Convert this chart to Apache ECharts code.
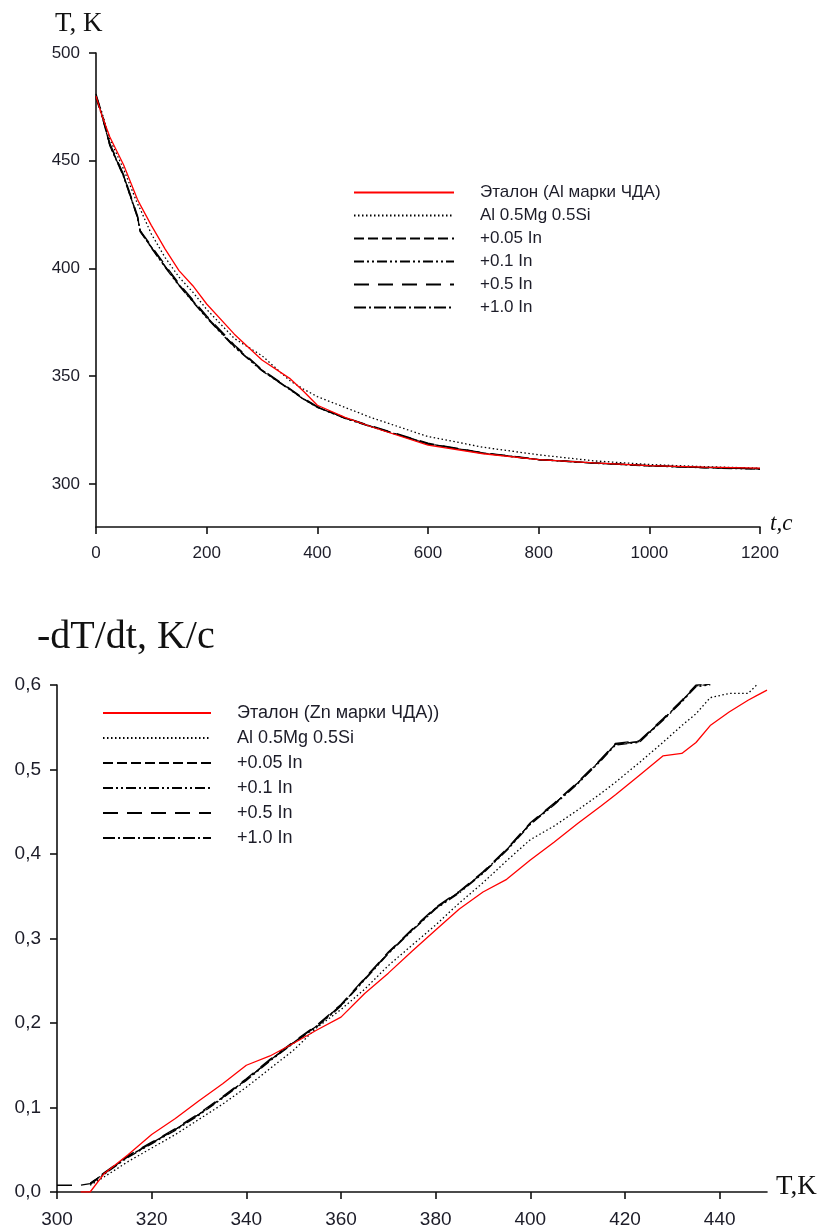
<!DOCTYPE html>
<html>
<head>
<meta charset="utf-8">
<script src="https://cdn.jsdelivr.net/npm/echarts@6/dist/echarts.min.js"></script>
<style>
html,body{margin:0;padding:0;background:#fff;}
#chart{width:822px;height:1229px;}
</style>
</head>
<body>
<div id="chart"></div>
<script>
// ---------- Top chart: cooling curves T(t) ----------
var topLegendNames = ['Эталон (Al марки ЧДА)', 'Al 0.5Mg 0.5Si', '+0.05 In', '+0.1 In', '+0.5 In', '+1.0 In'];
var topTime = [0, 10, 25, 50, 75, 80, 100, 125, 150, 175, 200, 250, 300, 350, 375, 400, 450, 500, 600, 700, 800, 900, 1000, 1100, 1200];
var topEtalon = [480, 471.5, 461, 448, 432, 429.5, 420, 409, 399, 392, 383.5, 369.5, 357.5, 349, 343, 336.5, 330.9, 326.3, 318, 314, 311.3, 309.8, 308.5, 307.8, 307.3];
var topAlMgSi = [480, 473, 460, 446, 430, 427.5, 416, 405, 396, 389, 381, 367.5, 359.5, 348, 344, 340.5, 335.5, 330.5, 322, 317, 313.5, 310.7, 309, 308, 307.3];
var topIn005 = [480, 472, 457.5, 443, 424, 417, 410, 401, 392.5, 385, 377.5, 364, 352.8, 344, 339.5, 335.7, 330.6, 326.5, 318.7, 314.3, 311.3, 309.7, 308.4, 307.6, 307];
var topIn01 = [479, 471.5, 457, 442.5, 423.5, 417.5, 409.5, 400.5, 392, 384.5, 377, 363.5, 352.5, 343.8, 339.3, 335.5, 330.4, 326.3, 318.5, 314.2, 311.2, 309.6, 308.3, 307.5, 306.8];
var topIn05 = [481, 472.5, 458, 443.5, 424.5, 417.5, 410.5, 401.5, 393, 385.5, 378, 364.5, 353, 344.3, 339.8, 335.9, 330.8, 326.7, 318.9, 314.4, 311.4, 309.8, 308.5, 307.7, 307.1];
var topIn10 = [480, 471.8, 457.2, 442.8, 423.8, 417.2, 409.8, 400.8, 392.3, 384.8, 377.3, 363.8, 352.6, 343.9, 339.4, 335.6, 330.5, 326.4, 318.6, 314.3, 311.3, 309.7, 308.4, 307.6, 307];
var topXTicks = [0, 200, 400, 600, 800, 1000, 1200];
var topYTicks = [300, 350, 400, 450, 500];

// ---------- Bottom chart: cooling rate -dT/dt(T) ----------
var botLegendNames = ['Эталон (Zn марки ЧДА))', 'Al 0.5Mg 0.5Si', '+0.05 In', '+0.1 In', '+0.5 In', '+1.0 In'];
var botTemp = [300, 305, 307, 310, 315, 320, 325, 330, 335, 340, 345, 350, 355, 360, 365, 370, 375, 380, 385, 390, 395, 400, 405, 410, 415, 418, 423, 428, 432, 435, 438, 442, 446, 448, 450];
var botEtalon = [null, 0, 0, 0.022, 0.044, 0.068, 0.087, 0.108, 0.128, 0.150, 0.161, 0.176, 0.192, 0.207, 0.235, 0.259, 0.285, 0.310, 0.335, 0.355, 0.370, 0.393, 0.414, 0.436, 0.457, 0.470, 0.493, 0.516, 0.519, 0.532, 0.552, 0.568, 0.582, 0.588, 0.594];
var botAlMgSi = [null, null, 0.008, 0.018, 0.036, 0.052, 0.068, 0.086, 0.104, 0.124, 0.146, 0.168, 0.195, 0.216, 0.240, 0.268, 0.292, 0.316, 0.342, 0.366, 0.392, 0.417, 0.433, 0.452, 0.472, 0.485, 0.508, 0.532, 0.552, 0.566, 0.585, 0.590, 0.590, 0.601, null];
var botIn005 = [null, null, 0.010, 0.022, 0.042, 0.058, 0.074, 0.092, 0.112, 0.133, 0.156, 0.177, 0.197, 0.221, 0.252, 0.283, 0.310, 0.336, 0.355, 0.378, 0.405, 0.436, 0.459, 0.484, 0.512, 0.530, 0.533, 0.559, 0.581, 0.599, 0.601, null, null, null, null];
var botIn01 = [null, null, 0.009, 0.021, 0.041, 0.057, 0.073, 0.091, 0.111, 0.132, 0.155, 0.176, 0.196, 0.220, 0.251, 0.282, 0.309, 0.335, 0.354, 0.377, 0.404, 0.435, 0.458, 0.483, 0.511, 0.529, 0.532, 0.558, 0.580, 0.598, 0.600, null, null, null, null];
var botIn05 = [0.008, 0.008, 0.010, 0.023, 0.043, 0.059, 0.075, 0.093, 0.113, 0.134, 0.157, 0.178, 0.198, 0.222, 0.253, 0.284, 0.311, 0.337, 0.356, 0.379, 0.406, 0.437, 0.460, 0.485, 0.513, 0.531, 0.534, 0.560, 0.582, 0.600, 0.602, null, null, null, null];
var botIn10 = [null, null, 0.010, 0.022, 0.042, 0.058, 0.074, 0.092, 0.112, 0.133, 0.156, 0.177, 0.197, 0.221, 0.252, 0.283, 0.310, 0.336, 0.355, 0.378, 0.405, 0.436, 0.459, 0.484, 0.512, 0.530, 0.533, 0.559, 0.581, 0.599, 0.601, null, null, null, null];
var botXTicks = [300, 320, 340, 360, 380, 400, 420, 440];

// ---------- styles ----------
var styles = [
  {color: '#ff0000', type: 'solid'},
  {color: '#000000', type: [1.5, 2.5]},
  {color: '#000000', type: [10, 4]},
  {color: '#000000', type: [10, 3, 2, 3, 2, 3]},
  {color: '#000000', type: [15, 9]},
  {color: '#000000', type: [12, 3, 2, 3]}
];

function zip(xs, ys) {
  var out = [];
  for (var i = 0; i < xs.length; i++) out.push([xs[i], ys[i]]);
  return out;
}

var topData = [topEtalon, topAlMgSi, topIn005, topIn01, topIn05, topIn10];
var botData = [botEtalon, botAlMgSi, botIn005, botIn01, botIn05, botIn10];

var series = [];
topData.forEach(function (d, i) {
  series.push({
    name: topLegendNames[i], type: 'line', xAxisIndex: 0, yAxisIndex: 0,
    data: zip(topTime, d), symbol: 'none', animation: false, z: i === 0 ? 3 : 2,
    lineStyle: {color: styles[i].color, width: 1.3, type: styles[i].type},
    itemStyle: {color: styles[i].color}
  });
});
botData.forEach(function (d, i) {
  series.push({
    name: 'b' + i, type: 'line', xAxisIndex: 1, yAxisIndex: 1,
    data: zip(botTemp, d), symbol: 'none', animation: false, z: i === 0 ? 3 : 2,
    lineStyle: {color: styles[i].color, width: 1.3, type: styles[i].type},
    itemStyle: {color: styles[i].color}
  });
});

var labelColor = '#1c1c28';
var axisLineStyle = {color: '#111', width: 1.6};
var sans = '"Liberation Sans", Arial, sans-serif';
var serif = '"Liberation Serif", "Times New Roman", serif';

var hiddenSymbol = {color: 'rgba(0,0,0,0)', borderColor: 'rgba(0,0,0,0)', borderWidth: 0, opacity: 0};
function plain(v) { return String(v); }

var option = {
  backgroundColor: '#ffffff',
  animation: false,
  grid: [
    {left: 96, top: 53, width: 664, height: 474},
    {left: 57, top: 685, width: 710, height: 507}
  ],
  legend: [
    {
      orient: 'vertical', left: 353, top: 184, padding: 0, itemWidth: 100, itemHeight: 14, itemGap: 6,
      data: topLegendNames, itemStyle: hiddenSymbol, selectedMode: false,
      textStyle: {fontFamily: sans, fontSize: 17, color: labelColor, padding: [0, 0, 0, 21], lineHeight: 14}
    },
    {
      orient: 'vertical', left: 102, top: 704, padding: 0, itemWidth: 108, itemHeight: 14, itemGap: 7,
      data: botLegendNames.map(function (n, i) { return {name: 'b' + i}; }),
      formatter: function (name) { return botLegendNames[+name.slice(1)]; },
      itemStyle: hiddenSymbol, selectedMode: false,
      textStyle: {fontFamily: sans, fontSize: 18, color: labelColor, padding: [0, 0, 0, 21], lineHeight: 14}
    }
  ],
  xAxis: [
    {
      gridIndex: 0, type: 'value', min: 0, max: 1200, interval: 200,
      axisLine: {lineStyle: axisLineStyle}, splitLine: {show: false},
      axisTick: {length: 7, lineStyle: axisLineStyle, customValues: topXTicks},
      axisLabel: {margin: 18, fontFamily: sans, fontSize: 17, color: labelColor, customValues: topXTicks, formatter: plain}
    },
    {
      gridIndex: 1, type: 'value', min: 300, max: 450, interval: 20,
      axisLine: {lineStyle: axisLineStyle}, splitLine: {show: false},
      axisTick: {length: 7, lineStyle: axisLineStyle, customValues: botXTicks},
      axisLabel: {margin: 18, fontFamily: sans, fontSize: 19, color: labelColor, customValues: botXTicks, formatter: plain}
    }
  ],
  yAxis: [
    {
      gridIndex: 0, type: 'value', min: 280, max: 500,
      axisLine: {show: true, lineStyle: axisLineStyle}, splitLine: {show: false},
      axisTick: {show: true, length: 7, lineStyle: axisLineStyle, customValues: topYTicks},
      axisLabel: {margin: 16, fontFamily: sans, fontSize: 17, color: labelColor, customValues: topYTicks, formatter: plain}
    },
    {
      gridIndex: 1, type: 'value', min: 0, max: 0.6, interval: 0.1,
      axisLine: {show: true, lineStyle: axisLineStyle}, splitLine: {show: false},
      axisTick: {show: true, length: 7, lineStyle: axisLineStyle},
      axisLabel: {
        margin: 16, fontFamily: sans, fontSize: 19, color: labelColor,
        formatter: function (v) { return v.toFixed(1).replace('.', ','); }
      }
    }
  ],
  graphic: [
    {type: 'text', left: 55, top: 10, style: {text: 'T, K', font: '27px ' + serif, fill: '#111'}},
    {type: 'text', left: 770, top: 512, style: {text: 't,c', font: 'italic 23px ' + serif, fill: '#111'}},
    {type: 'text', left: 37, top: 617, style: {text: '-dT/dt, K/c', font: '40px ' + serif, fill: '#111'}},
    {type: 'text', left: 776, top: 1173, style: {text: 'T,K', font: '27px ' + serif, fill: '#111'}}
  ],
  series: series
};

var chart = echarts.init(document.getElementById('chart'), null, {renderer: 'canvas'});
chart.setOption(option);
</script>
</body>
</html>
